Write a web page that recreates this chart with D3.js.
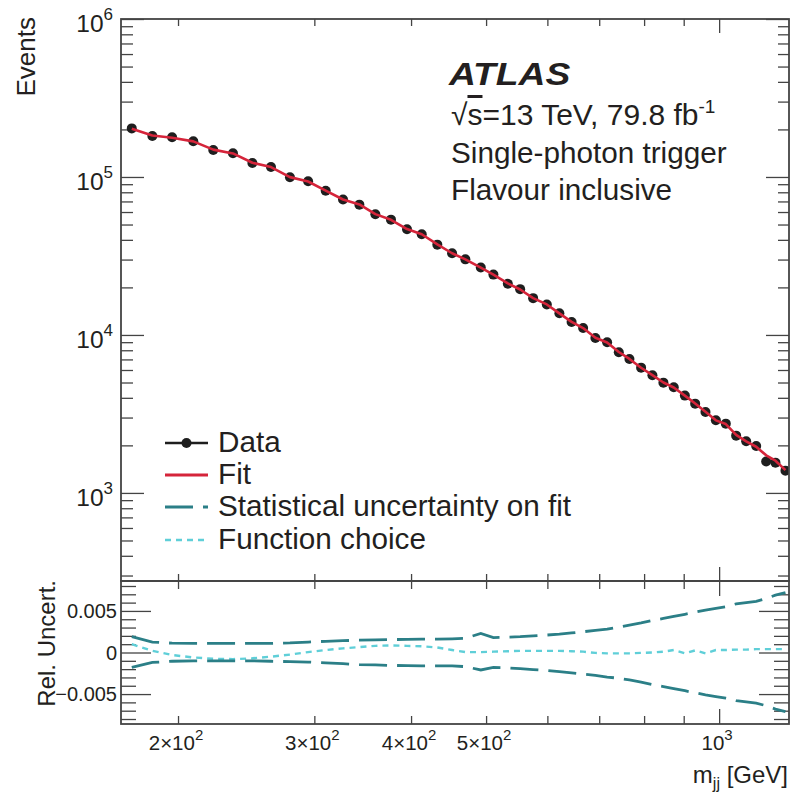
<!DOCTYPE html>
<html>
<head>
<meta charset="utf-8">
<script src="https://cdn.jsdelivr.net/npm/d3@7"></script>
<style>
  html, body { margin: 0; padding: 0; background: #fff; }
  svg text { font-family: "Liberation Sans", Arial, Helvetica, sans-serif; fill: #231f20; }
</style>
</head>
<body>
<svg id="chart" width="791" height="792"></svg>
<script>
// ---------------- data ----------------
const binCenters = [174.3, 185.3, 196.5, 209.3, 222.1, 235.5, 249.5, 263.7, 279.0, 294.5,
  310.3, 326.7, 343.0, 359.7, 376.8, 395.2, 412.9, 432.5, 451.9, 470.1,
  492.2, 511.0, 533.4, 553.3, 575.1, 599.0, 621.8, 644.8, 667.3, 692.1,
  716.7, 742.0, 765.8, 792.9, 820.0, 847.3, 873.8, 903.1, 931.2, 960.2,
  990.3, 1020.1, 1051.9, 1083.8, 1116.5, 1150.2, 1182.4, 1218.1];

const dataEvents = [203000, 181800, 178400, 168300, 148200, 141300, 122600, 115700, 99600, 93900,
  81900, 72100, 66800, 58100, 53700, 46700, 43400, 37300, 32900, 30100,
  26700, 24100, 21100, 19500, 17100, 15600, 13720, 12090, 11080, 9570,
  8990, 7770, 7050, 6210, 5560, 4990, 4670, 4130, 3675, 3255,
  2885, 2745, 2305, 2125, 1984, 1583, 1555, 1384];

const fitEvents = [202000, 183000, 177000, 168000, 149000, 141000, 123000, 115500, 99800, 93600,
  82000, 72000, 67000, 58200, 53600, 46800, 43400, 37400, 32900, 30100,
  26700, 24100, 21200, 19400, 17100, 15600, 13700, 12100, 11050, 9600,
  8950, 7800, 7050, 6200, 5570, 5000, 4650, 4130, 3680, 3260,
  2880, 2730, 2330, 2120, 1960, 1730, 1600, 1395];

const statUp = [1.9, 1.25, 1.12, 1.1, 1.1, 1.1, 1.1, 1.1, 1.15, 1.25,
  1.35, 1.42, 1.48, 1.52, 1.55, 1.58, 1.6, 1.62, 1.65, 1.7,
  2.3, 1.8, 1.85, 1.9, 2.0, 2.1, 2.2, 2.35, 2.5, 2.65,
  2.8, 3.05, 3.3, 3.55, 3.85, 4.1, 4.35, 4.6, 4.85, 5.1,
  5.3, 5.5, 5.85, 6.0, 6.15, 6.5, 6.9, 7.2].map(v => v * 1e-3);

const statDown = [-1.8, -1.2, -1.05, -1.0, -1.0, -1.0, -1.0, -1.05, -1.1, -1.15,
  -1.25, -1.35, -1.45, -1.5, -1.55, -1.58, -1.6, -1.6, -1.62, -1.7,
  -2.1, -1.8, -1.85, -1.95, -2.05, -2.15, -2.3, -2.45, -2.6, -2.75,
  -2.95, -3.1, -3.3, -3.55, -3.85, -4.1, -4.35, -4.6, -4.85, -5.1,
  -5.3, -5.5, -5.8, -5.95, -6.1, -6.4, -6.8, -7.1].map(v => v * 1e-3);

const funcChoice = [1.0, 0.2, -0.3, -0.6, -0.75, -0.8, -0.7, -0.5, -0.25, 0.05,
  0.3, 0.5, 0.65, 0.8, 0.85, 0.8, 0.75, 0.6, 0.3, 0.05,
  0.05, 0.1, 0.15, 0.2, 0.2, 0.2, 0.2, 0.15, 0.1, -0.05,
  -0.1, -0.1, -0.1, -0.05, 0.0, 0.1, 0.3, -0.1, 0.25, -0.1,
  0.3, 0.3, 0.35, 0.35, 0.4, 0.4, 0.4, 0.4].map(v => v * 1e-3);

const xTickLabels = [{v: 200, m: "2\u00d710", e: "2"}, {v: 300, m: "3\u00d710", e: "2"},
  {v: 400, m: "4\u00d710", e: "2"}, {v: 500, m: "5\u00d710", e: "2"}, {v: 1000, m: "10", e: "3"}];
const yMainLabels = [{v: 1e3, e: "3"}, {v: 1e4, e: "4"}, {v: 1e5, e: "5"}, {v: 1e6, e: "6"}];
const yRatioLabels = [{v: 0.005, t: "0.005"}, {v: 0, t: "0"}, {v: -0.005, t: "\u22120.005"}];
const legendItems = ["Data", "Fit", "Statistical uncertainty on fit", "Function choice"];
const infoLines = ["Single-photon trigger", "Flavour inclusive"];

// ---------------- layout ----------------
const L = 121, R = 789, T = 19, MB = 581, B = 724;
const frameColor = "#444";
const red = "#d5243a", teal = "#2b7f87", cyan = "#5fcfd8";

const svg = d3.select("#chart");

const x = d3.scaleLog().domain([168.8, 1231]).range([L, R]);
const y = d3.scaleLog().domain([277, 1e6]).range([MB, T]);
const yr = d3.scaleLinear().domain([-0.0086, 0.0086]).range([B, MB]);

// clip paths
const defs = svg.append("defs");
defs.append("clipPath").attr("id", "clipMain").append("rect")
  .attr("x", L).attr("y", T).attr("width", R - L).attr("height", MB - T);
defs.append("clipPath").attr("id", "clipRatio").append("rect")
  .attr("x", L).attr("y", MB).attr("width", R - L).attr("height", B - MB);

// ---------------- ticks helper ----------------
function tickAxis(axisFn, scale, values, size, tx, ty) {
  const g = svg.append("g").attr("transform", `translate(${tx},${ty})`)
    .call(axisFn(scale).tickValues(values).tickSize(size).tickSizeOuter(0).tickFormat(""));
  g.select(".domain").remove();
  g.selectAll(".tick line").attr("stroke", frameColor).attr("stroke-width", 1.3);
  return g;
}

// main y ticks
const yMajor = [1e3, 1e4, 1e5, 1e6];
const yMinor = [];
[100, 1000, 10000, 100000].forEach(d => { for (let k = 2; k <= 9; k++) { const v = d * k; if (v >= 277 && v <= 1e6) yMinor.push(v); } });
tickAxis(d3.axisLeft, y, yMajor, -23, L, 0);
tickAxis(d3.axisLeft, y, yMinor, -12, L, 0);
tickAxis(d3.axisRight, y, yMajor, -23, R, 0);
tickAxis(d3.axisRight, y, yMinor, -11, R, 0);

// x ticks
const xMajor = [1000];
const xMinor = [200, 300, 400, 500, 600, 700, 800, 900];
tickAxis(d3.axisTop, x, xMajor, -14, 0, T);
tickAxis(d3.axisTop, x, xMinor, -7, 0, T);
tickAxis(d3.axisBottom, x, xMajor, -14, 0, MB);
tickAxis(d3.axisBottom, x, xMinor, -7, 0, MB);
tickAxis(d3.axisTop, x, xMajor, -15, 0, MB);
tickAxis(d3.axisTop, x, xMinor, -8, 0, MB);
tickAxis(d3.axisBottom, x, xMajor, -15, 0, B);
tickAxis(d3.axisBottom, x, xMinor, -8, 0, B);

// ratio y ticks
const rMajor = [-0.005, 0, 0.005];
const rMinor = [];
for (let k = -8; k <= 8; k++) { if (k % 5 !== 0) rMinor.push(k / 1000); }
tickAxis(d3.axisLeft, yr, rMajor, -30, L, 0);
tickAxis(d3.axisLeft, yr, rMinor, -15, L, 0);
tickAxis(d3.axisRight, yr, rMajor, -30, R, 0);
tickAxis(d3.axisRight, yr, rMinor, -15, R, 0);

// ---------------- main panel content ----------------
const gMain = svg.append("g").attr("clip-path", "url(#clipMain)");
gMain.selectAll("circle.data").data(binCenters).join("circle")
  .attr("class", "data")
  .attr("cx", d => x(d))
  .attr("cy", (d, i) => y(dataEvents[i]))
  .attr("r", 5)
  .attr("fill", "#1e1e1e");

const fitLine = d3.line().x(d => x(d)).y((d, i) => y(fitEvents[i]));
gMain.append("path").datum(binCenters)
  .attr("d", fitLine)
  .attr("fill", "none").attr("stroke", red).attr("stroke-width", 2.6)
  .attr("stroke-linejoin", "round");

// ---------------- ratio panel content ----------------
const gRatio = svg.append("g").attr("clip-path", "url(#clipRatio)");
function ratioPath(arr, color, dash, w) {
  const ln = d3.line().x(d => x(d)).y((d, i) => yr(arr[i]));
  gRatio.append("path").datum(binCenters).attr("d", ln)
    .attr("fill", "none").attr("stroke", color).attr("stroke-width", w)
    .attr("stroke-dasharray", dash);
}
ratioPath(funcChoice, cyan, "6,5", 2.4);
ratioPath(statUp, teal, "28,10", 2.8);
ratioPath(statDown, teal, "28,10", 2.8);

// ---------------- frames ----------------
svg.append("rect").attr("x", L).attr("y", T).attr("width", R - L).attr("height", MB - T)
  .attr("fill", "none").attr("stroke", frameColor).attr("stroke-width", 1.8);
svg.append("rect").attr("x", L).attr("y", MB).attr("width", R - L).attr("height", B - MB)
  .attr("fill", "none").attr("stroke", frameColor).attr("stroke-width", 1.8);

// ---------------- tick labels ----------------
yMainLabels.forEach(d => {
  const t = svg.append("text").attr("x", 113).attr("y", y(d.v) + 13)
    .attr("text-anchor", "end").attr("font-size", 24.5);
  t.append("tspan").text("10");
  t.append("tspan").attr("font-size", 17).attr("dy", -12).text(d.e);
});
yRatioLabels.forEach(d => {
  svg.append("text").attr("x", 117).attr("y", yr(d.v) + 7)
    .attr("text-anchor", "end").attr("font-size", 20).text(d.t);
});
xTickLabels.forEach(d => {
  const t = svg.append("text").attr("x", x(d.v) - 2).attr("y", 750)
    .attr("text-anchor", "middle").attr("font-size", 20.5);
  t.append("tspan").text(d.m);
  t.append("tspan").attr("font-size", 15).attr("dy", -10).text(d.e);
});

// axis titles
svg.append("text").attr("transform", "translate(35,17) rotate(-90)")
  .attr("text-anchor", "end").attr("font-size", 26).text("Events");
svg.append("text").attr("transform", "translate(55,580) rotate(-90)")
  .attr("text-anchor", "end").attr("font-size", 24).text("Rel. Uncert.");
const xt = svg.append("text").attr("x", 788).attr("y", 783)
  .attr("text-anchor", "end").attr("font-size", 24);
xt.append("tspan").text("m");
xt.append("tspan").attr("font-size", 16).attr("dy", 6).text("jj");
xt.append("tspan").attr("dy", -6).text(" [GeV]");

// ---------------- ATLAS label ----------------
svg.append("text").attr("transform", "translate(449,85) scale(1.2,1)")
  .attr("font-size", 31).attr("font-weight", "bold").attr("font-style", "italic")
  .text("ATLAS");
const lumi = svg.append("text").attr("x", 451).attr("y", 125).attr("font-size", 30);
lumi.append("tspan").text("\u221a");
lumi.append("tspan").style("text-decoration", "overline").text("s");
lumi.append("tspan").text("=13 TeV, 79.8 fb");
lumi.append("tspan").attr("font-size", 19).attr("dy", -12).text("-1");
infoLines.forEach((s, i) => {
  svg.append("text").attr("x", 451).attr("y", [163, 200][i]).attr("font-size", 29.7).text(s);
});

// ---------------- legend ----------------
const legY = [443, 475, 507, 540];
const lx0 = 165, lx1 = 208;
const lg = svg.append("g");
lg.append("line").attr("x1", lx0).attr("x2", lx1).attr("y1", legY[0]).attr("y2", legY[0])
  .attr("stroke", "#1e1e1e").attr("stroke-width", 2.6);
lg.append("circle").attr("cx", (lx0 + lx1) / 2).attr("cy", legY[0]).attr("r", 5).attr("fill", "#1e1e1e");
lg.append("line").attr("x1", lx0).attr("x2", lx1).attr("y1", legY[1]).attr("y2", legY[1])
  .attr("stroke", red).attr("stroke-width", 2.8);
lg.append("line").attr("x1", lx0).attr("x2", lx1).attr("y1", legY[2]).attr("y2", legY[2])
  .attr("stroke", teal).attr("stroke-width", 2.8).attr("stroke-dasharray", "28,10");
lg.append("line").attr("x1", lx0).attr("x2", lx1).attr("y1", legY[3]).attr("y2", legY[3])
  .attr("stroke", cyan).attr("stroke-width", 2.6).attr("stroke-dasharray", "6,5");
legendItems.forEach((s, i) => {
  lg.append("text").attr("x", 218).attr("y", legY[i] + 9).attr("font-size", 29.7).text(s);
});
</script>
</body>
</html>
